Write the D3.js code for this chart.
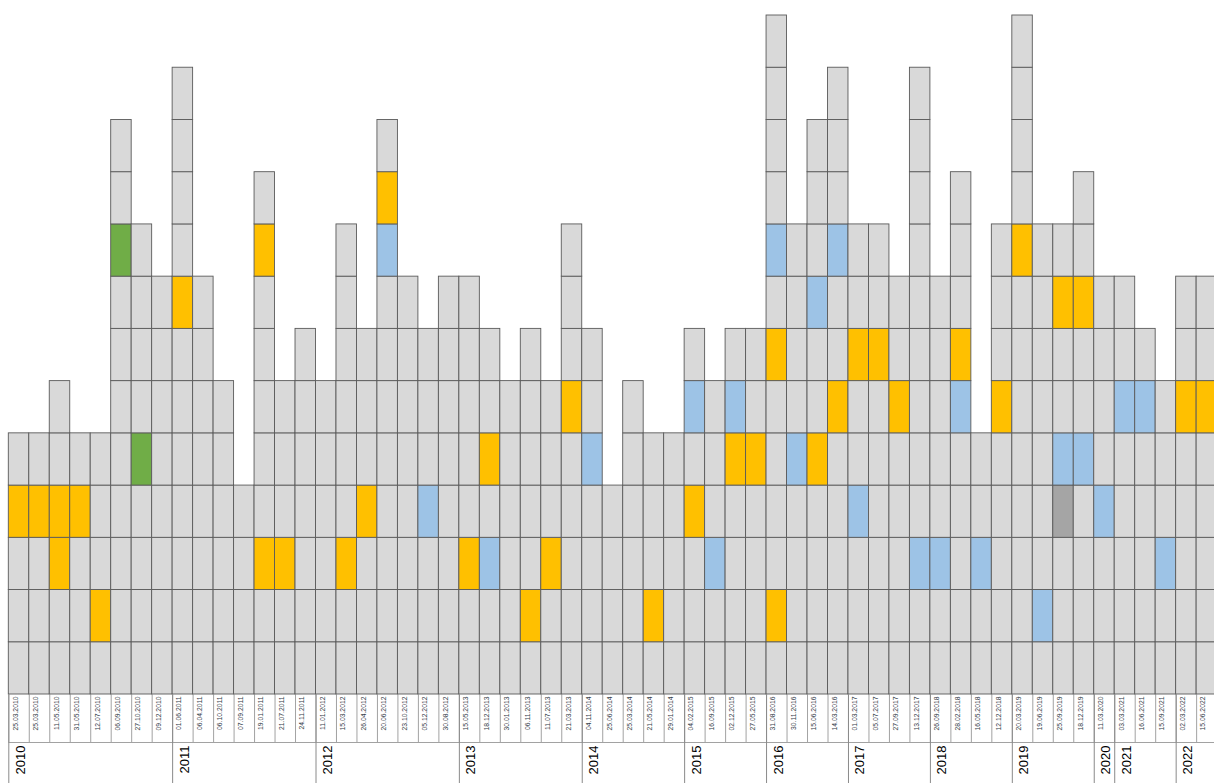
<!DOCTYPE html>
<head>
    <meta charset="utf-8">
    <title>Stacked cells by date</title>
    <style>
        body { margin: 0; background: #fff; }
        text { font-family: "Liberation Sans", Arial, sans-serif; }
    </style>
    <script src="https://d3js.org/d3.v7.min.js"></script>
</head>
<body>
    <script>
        // one column per date
        var dates = ["25.03.2010","25.03.2010","11.05.2010","31.05.2010","12.07.2010","06.09.2010","27.10.2010","09.12.2010",
            "01.06.2011","06.04.2011","06.10.2011","07.09.2011","19.01.2011","21.07.2011","24.11.2011",
            "11.01.2012","15.03.2012","26.04.2012","20.06.2012","23.10.2012","05.12.2012","30.08.2012",
            "15.05.2013","18.12.2013","30.01.2013","06.11.2013","11.07.2013","21.03.2013",
            "04.11.2014","25.06.2014","25.03.2014","21.05.2014","29.01.2014",
            "04.02.2015","16.09.2015","02.12.2015","27.05.2015",
            "31.08.2016","30.11.2016","15.06.2016","14.03.2016",
            "01.03.2017","05.07.2017","27.09.2017","13.12.2017",
            "26.09.2018","28.02.2018","16.05.2018","12.12.2018",
            "20.03.2019","19.06.2019","25.09.2019","18.12.2019",
            "11.03.2020",
            "03.03.2021","16.06.2021","15.09.2021",
            "02.03.2022","15.06.2022"];

        var years = ["2010","2011","2012","2013","2014","2015","2016","2017","2018","2019","2020","2021","2022"];

        // number of stacked cells in each column
        var counts = [5,5,6,5,5,11,9,8,12,8,6,4,10,6,7,6,9,7,11,8,7,8,8,7,6,7,6,9,7,4,
                      6,5,5,7,6,7,7,13,9,11,12,9,9,8,12,8,10,5,9,13,9,9,10,8,8,7,6,8,8];

        // highlighted cells: [column index, level from bottom]
        var orangeCells = [[0,4],[1,4],[2,4],[2,3],[3,4],[4,2],[8,8],[12,9],[12,3],[13,3],[16,3],[17,4],
            [18,10],[22,3],[23,5],[25,2],[26,3],[27,6],[31,2],[33,4],[35,5],[36,5],[37,7],[37,2],
            [39,5],[40,6],[41,7],[42,7],[43,6],[46,7],[48,6],[49,9],[51,8],[52,8],[57,6],[58,6]];
        var blueCells = [[18,9],[20,4],[23,3],[28,5],[33,6],[34,3],[35,6],[37,9],[38,5],[39,8],[40,9],
            [41,4],[44,3],[45,3],[46,6],[47,3],[50,2],[51,5],[52,5],[53,4],[54,6],[55,6],[56,3]];
        var greenCells = [[5,9],[6,5]];
        var darkCells = [[51,4]];

        var width = 1214, height = 783;
        var gridBottom = 694, labelBottom = 742;

        var colour = {};
        orangeCells.forEach(function(c){ colour[c[0]+"-"+c[1]] = "#ffc000"; });
        blueCells.forEach(function(c){ colour[c[0]+"-"+c[1]] = "#9dc3e6"; });
        greenCells.forEach(function(c){ colour[c[0]+"-"+c[1]] = "#70ad47"; });
        darkCells.forEach(function(c){ colour[c[0]+"-"+c[1]] = "#a5a5a5"; });

        var cells = [];
        counts.forEach(function(n, i){
            for (var k = 1; k <= n; k++) {
                cells.push({ col: i, level: k, fill: colour[i+"-"+k] || "#d9d9d9" });
            }
        });

        var x = d3.scaleBand()
            .domain(d3.range(dates.length))
            .range([8.3, 8.3 + dates.length * 20.48])
            .paddingInner(0);

        var y = d3.scaleLinear()
            .domain([0, 13])
            .range([gridBottom, 15]);

        var svg = d3.select("body")
            .append("svg")
            .attr("width", width)
            .attr("height", height);

        var plot = svg.append("g").attr("id", "cells");

        plot.selectAll("rect")
            .data(cells)
            .enter()
            .append("rect")
            .attr("x", d => x(d.col))
            .attr("y", d => y(d.level))
            .attr("width", x.bandwidth())
            .attr("height", d => y(d.level - 1) - y(d.level))
            .attr("fill", d => d.fill)
            .attr("stroke", "#5a5a5a")
            .attr("stroke-width", 0.9);

        // date label row
        var labels = svg.append("g").attr("id", "date_labels");

        labels.selectAll("line")
            .data(d3.range(dates.length))
            .enter()
            .append("line")
            .attr("x1", d => x(d) + 0.5)
            .attr("x2", d => x(d) + 0.5)
            .attr("y1", gridBottom)
            .attr("y2", labelBottom)
            .attr("stroke", "#8a8a8a")
            .attr("stroke-width", 0.8);

        labels.selectAll("text")
            .data(dates)
            .enter()
            .append("text")
            .attr("transform", (d, i) => "translate(" + (x(i) + 9.3) + "," + (gridBottom + 2.5) + ") rotate(-90)")
            .attr("text-anchor", "end")
            .attr("font-size", "6.8px")
            .attr("fill", "#343c48")
            .text(d => d);

        svg.append("line")
            .attr("x1", x(0))
            .attr("x2", width)
            .attr("y1", labelBottom + 0.5)
            .attr("y2", labelBottom + 0.5)
            .attr("stroke", "#8a8a8a")
            .attr("stroke-width", 0.8);

        // year row
        var yearStart = years.map(function(yr){
            return dates.findIndex(d => d.slice(-4) === yr);
        });

        var yearAxis = svg.append("g").attr("id", "year_labels");

        yearAxis.selectAll("line")
            .data(yearStart)
            .enter()
            .append("line")
            .attr("x1", d => x(d) + 0.5)
            .attr("x2", d => x(d) + 0.5)
            .attr("y1", gridBottom)
            .attr("y2", height)
            .attr("stroke", "#8a8a8a")
            .attr("stroke-width", 1);

        yearAxis.selectAll("text")
            .data(years)
            .enter()
            .append("text")
            .attr("transform", (d, i) => "translate(" + (x(yearStart[i]) + 16.5) + "," + (labelBottom + 3.5) + ") rotate(-90)")
            .attr("text-anchor", "end")
            .attr("font-size", "13px")
            .attr("fill", "#000")
            .text(d => d);
    </script>
</body>
